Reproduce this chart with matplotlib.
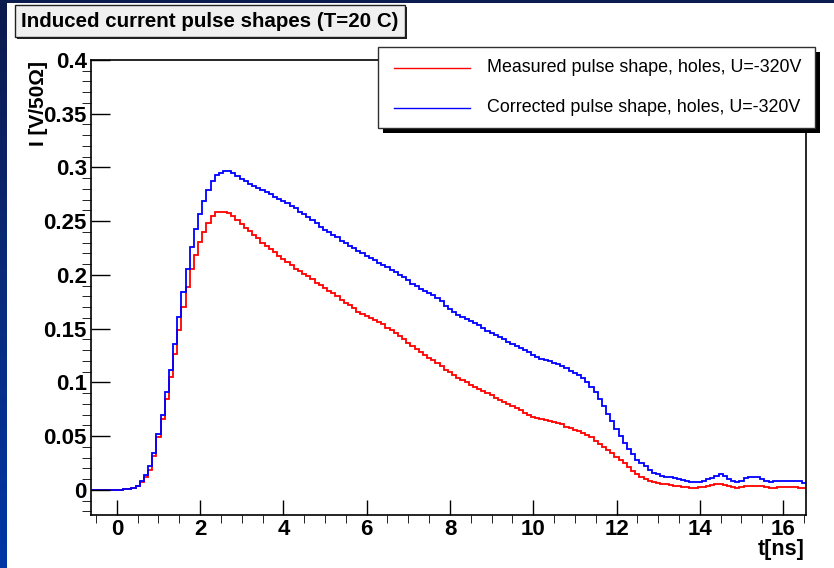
import numpy as np
import matplotlib
matplotlib.use("Agg")
import matplotlib.pyplot as plt
from matplotlib.patches import Rectangle
from matplotlib.lines import Line2D
from matplotlib.colors import LinearSegmentedColormap

W, H = 834, 568

plt.rcParams.update({
    "font.family": ["Liberation Sans", "DejaVu Sans"],
    "font.weight": "bold",
})

TITLE = "Induced current pulse shapes (T=20 C)"
XLABEL = "t[ns]"
YLABEL = "I [V/50\u03a9]"
LABELS = ["Measured pulse shape, holes, U=-320V",
          "Corrected pulse shape, holes, U=-320V"]
COLORS = ["#ff0000", "#0000ff"]

# histogram: first bin centred at -0.6 ns, bin width 0.1 ns
T_START = -0.6
BIN_W = 0.1

measured = [
    0, 0, 0, 0, 0, 0, 0, 0, 0.0005, 0.001,
    0.002, 0.004, 0.007, 0.012, 0.019, 0.032, 0.0495, 0.066, 0.085, 0.105,
    0.1265, 0.149, 0.1705, 0.189, 0.2055, 0.219, 0.231, 0.240, 0.2485, 0.2547,
    0.2585, 0.259, 0.259, 0.258, 0.2547, 0.2513, 0.2476, 0.2435, 0.2405, 0.2374,
    0.234, 0.230, 0.2268, 0.224, 0.221, 0.218, 0.215, 0.212, 0.209, 0.206,
    0.204, 0.201, 0.199, 0.196, 0.193, 0.191, 0.188, 0.185, 0.183, 0.180,
    0.177, 0.174, 0.172, 0.169, 0.166, 0.164, 0.162, 0.160, 0.158, 0.156,
    0.154, 0.151, 0.149, 0.146, 0.143, 0.140, 0.137, 0.134, 0.131, 0.128,
    0.126, 0.123, 0.121, 0.118, 0.115, 0.112, 0.110, 0.107, 0.104, 0.102,
    0.100, 0.098, 0.096, 0.094, 0.092, 0.090, 0.088, 0.086, 0.084, 0.082,
    0.080, 0.078, 0.076, 0.074, 0.072, 0.070, 0.068, 0.067, 0.066, 0.065,
    0.064, 0.063, 0.062, 0.061, 0.059, 0.058, 0.056, 0.055, 0.053, 0.051,
    0.049, 0.046, 0.043, 0.040, 0.037, 0.034, 0.031, 0.028, 0.025, 0.021,
    0.018, 0.015, 0.012, 0.010, 0.008, 0.007, 0.0065, 0.006, 0.0055, 0.005,
    0.004, 0.0035, 0.003, 0.0025, 0.002, 0.002, 0.0025, 0.003, 0.004, 0.005,
    0.0055, 0.0055, 0.005, 0.004, 0.003, 0.002, 0.0025, 0.0035, 0.004, 0.004,
    0.004, 0.0035, 0.003, 0.002, 0.002, 0.0025, 0.0025, 0.0025, 0.0025, 0.0025,
    0.002, 0.002,
]

corrected = [
    0, 0, 0, 0, 0, 0, 0, 0, 0.0005, 0.001,
    0.002, 0.004, 0.008, 0.014, 0.022, 0.034, 0.052, 0.070, 0.091, 0.112,
    0.136, 0.161, 0.184, 0.206, 0.226, 0.243, 0.257, 0.269, 0.279, 0.287,
    0.293, 0.295, 0.297, 0.297, 0.295, 0.292, 0.289, 0.287, 0.285, 0.283,
    0.281, 0.279, 0.277, 0.275, 0.273, 0.271, 0.269, 0.267, 0.264, 0.262,
    0.259, 0.257, 0.254, 0.251, 0.248, 0.245, 0.242, 0.240, 0.237, 0.235,
    0.232, 0.230, 0.227, 0.225, 0.222, 0.220, 0.218, 0.216, 0.214, 0.211,
    0.209, 0.207, 0.205, 0.203, 0.200, 0.198, 0.195, 0.192, 0.190, 0.187,
    0.185, 0.183, 0.181, 0.179, 0.176, 0.171, 0.168, 0.166, 0.163, 0.161,
    0.159, 0.157, 0.155, 0.153, 0.151, 0.148, 0.146, 0.144, 0.142, 0.140,
    0.138, 0.136, 0.134, 0.132, 0.130, 0.128, 0.126, 0.124, 0.122, 0.121,
    0.120, 0.118, 0.117, 0.115, 0.113, 0.111, 0.109, 0.107, 0.104, 0.100,
    0.096, 0.091, 0.085, 0.078, 0.071, 0.064, 0.057, 0.050, 0.044, 0.038,
    0.033, 0.028, 0.025, 0.022, 0.019, 0.016, 0.015, 0.013, 0.012, 0.012,
    0.011, 0.010, 0.009, 0.008, 0.007, 0.007, 0.007, 0.008, 0.010, 0.011,
    0.013, 0.0145, 0.013, 0.010, 0.008, 0.007, 0.008, 0.011, 0.012, 0.0125,
    0.012, 0.010, 0.008, 0.007, 0.008, 0.0085, 0.0085, 0.008, 0.0085, 0.0085,
    0.008, 0.0068,
]

X_MAJOR = [0, 2, 4, 6, 8, 10, 12, 14, 16]
Y_MAJOR = [0, 0.05, 0.1, 0.15, 0.2, 0.25, 0.3, 0.35, 0.4]
Y_TICKLABELS = ["0", "0.05", "0.1", "0.15", "0.2", "0.25", "0.3", "0.35", "0.4"]


def fx(x):
    return x / W


def fy(y):
    return 1 - y / H


def box(x0, y0, x1, y1, **kw):
    # rectangle given in pixel coords (origin top-left)
    return Rectangle((fx(x0), fy(y1)), fx(x1) - fx(x0), (y1 - y0) / H,
                     transform=fig.transFigure, **kw)


fig = plt.figure(figsize=(W / 100, H / 100), dpi=100, facecolor="white")

# canvas border: dark top band, blue gradient strip on the left
fig.patches.append(box(0, 0, W, 3, facecolor="#0b1c50", edgecolor="none", zorder=0))
strip = fig.add_axes([0, 0, fx(7), 1], zorder=0)
grad = np.linspace(0, 1, 256).reshape(-1, 1)
cmap = LinearSegmentedColormap.from_list("strip", ["#0a1a4c", "#0a2a7a", "#0036a6"])
strip.imshow(grad, aspect="auto", cmap=cmap, extent=[0, 1, 1, 0])
strip.axis("off")

# main frame
ax = fig.add_axes([fx(91), fy(515), fx(806) - fx(91), (515 - 60) / H], zorder=1)
edges = T_START - BIN_W / 2 + BIN_W * np.arange(len(measured) + 1)
ax.stairs(measured, edges, color=COLORS[0], linewidth=1.3, baseline=None)
ax.stairs(corrected, edges, color=COLORS[1], linewidth=1.3, baseline=None)

ax.set_xlim(-0.62, 16.55)
ax.set_ylim(-0.0233, 0.4)
ax.set_xticks(X_MAJOR)
ax.set_xticks(np.arange(-0.5, 16.6, 0.5), minor=True)
ax.set_yticks(Y_MAJOR)
ax.set_yticklabels(Y_TICKLABELS)
ax.set_yticks(np.arange(-0.02, 0.401, 0.01), minor=True)
ax.tick_params(axis="both", direction="in", labelsize=16, colors="black",
               top=False, right=False, width=1.0)
ax.tick_params(axis="x", which="major", length=11, pad=3)
ax.tick_params(axis="x", which="minor", length=5.5)
ax.tick_params(axis="y", which="major", length=13.5, pad=3)
ax.tick_params(axis="y", which="minor", length=6.8)
for s in ax.spines.values():
    s.set_linewidth(1.2)

fig.text(fx(805), fy(550), XLABEL, ha="right", va="center", fontsize=15.5,
         fontweight="bold")
fig.text(fx(38), fy(61), YLABEL, ha="center", va="top", rotation=90,
         fontsize=15, fontweight="bold")

# title box with shadow
fig.patches.append(box(17, 7, 407, 39, facecolor="#202020", edgecolor="none", zorder=3))
fig.patches.append(box(15, 5, 405, 37, facecolor="#f0f0f0", edgecolor="#202020",
                       linewidth=1.0, zorder=4))
fig.text(fx(210), fy(21.5), TITLE, ha="center", va="center", fontsize=14.8,
         fontweight="bold", zorder=5)

# legend box with shadow
fig.patches.append(box(383, 52, 820, 133, facecolor="black", edgecolor="none", zorder=3))
fig.patches.append(box(378, 47, 815, 128, facecolor="white", edgecolor="#303030",
                       linewidth=1.0, zorder=4))
for label, color, ly in zip(LABELS, COLORS, [67.5, 108]):
    fig.add_artist(Line2D([fx(394), fx(470)], [fy(ly), fy(ly)], color=color,
                          linewidth=1.0, transform=fig.transFigure, zorder=5))
    fig.text(fx(487), fy(ly), label, ha="left", va="center", fontsize=12.9,
             fontweight="normal", zorder=5)

fig.savefig("out.png", dpi=100, facecolor="white")
